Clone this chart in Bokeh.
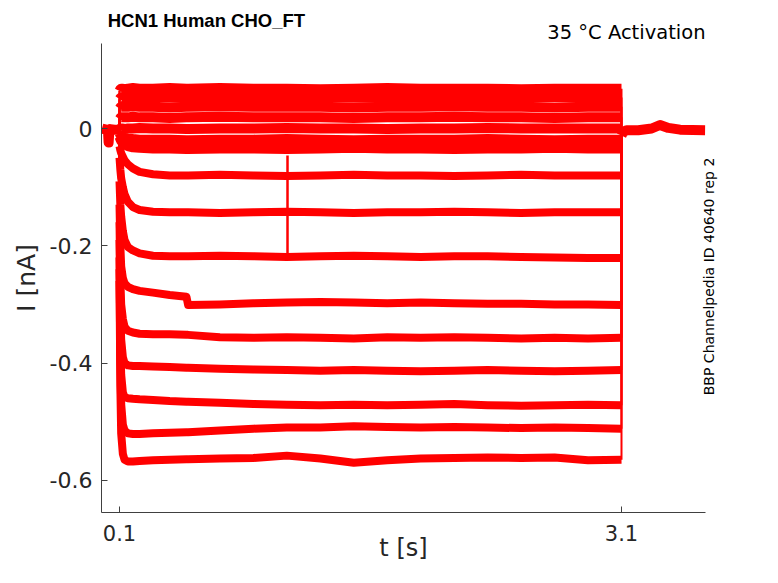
import math
from bokeh.plotting import figure
from bokeh.models import Range1d, FixedTicker, CustomJSTickFormatter, LinearAxis
from bokeh.embed import file_html
from bokeh.resources import INLINE

# ---- data, current in nA, time in s ----
t_grid = [0.1, 0.105, 0.11, 0.12, 0.13, 0.15, 0.18, 0.22, 0.3, 0.4, 0.5, 0.51,
          0.7, 0.9, 1.1, 1.3, 1.5, 1.7, 1.9, 2.1, 2.3, 2.5, 2.7, 2.9, 3.1]

i01 = [0.064, 0.067, 0.068, 0.068, 0.067, 0.068, 0.069, 0.068, 0.068, 0.069, 0.068, 0.068, 0.069, 0.068, 0.068, 0.067, 0.068, 0.069, 0.068, 0.068, 0.068, 0.067, 0.068, 0.068, 0.068]
i02 = [0.050, 0.052, 0.053, 0.053, 0.053, 0.052, 0.053, 0.053, 0.054, 0.053, 0.053, 0.053, 0.052, 0.053, 0.053, 0.054, 0.053, 0.053, 0.052, 0.053, 0.053, 0.053, 0.054, 0.053, 0.053]
i03 = [0.034, 0.036, 0.037, 0.037, 0.037, 0.037, 0.038, 0.037, 0.037, 0.036, 0.037, 0.037, 0.038, 0.037, 0.037, 0.037, 0.036, 0.037, 0.037, 0.038, 0.037, 0.037, 0.036, 0.037, 0.037]
i04 = [0.016, 0.018, 0.019, 0.019, 0.019, 0.019, 0.020, 0.019, 0.019, 0.018, 0.019, 0.019, 0.020, 0.019, 0.019, 0.019, 0.018, 0.019, 0.019, 0.020, 0.019, 0.019, 0.018, 0.019, 0.019]
i05 = [-0.002, 0.0, 0.0, 0.0, -0.001, 0.0, 0.0, 0.001, 0.0, 0.0, -0.001, -0.001, 0.0, 0.0, 0.001, 0.0, 0.0, -0.001, 0.0, 0.0, 0.001, 0.0, 0.0, 0.0, 0.0]
i06 = [-0.008, -0.011, -0.013, -0.015, -0.016, -0.017, -0.018, -0.019, -0.019, -0.019, -0.020, -0.020, -0.019, -0.019, -0.018, -0.019, -0.020, -0.019, -0.019, -0.019, -0.018, -0.019, -0.020, -0.019, -0.019]
i07 = [-0.014, -0.018, -0.021, -0.025, -0.027, -0.030, -0.032, -0.033, -0.034, -0.034, -0.035, -0.035, -0.034, -0.034, -0.035, -0.034, -0.033, -0.034, -0.034, -0.035, -0.034, -0.034, -0.033, -0.034, -0.034]
i08 = [-0.030, -0.037, -0.042, -0.048, -0.054, -0.061, -0.068, -0.074, -0.078, -0.080, -0.080, -0.080, -0.079, -0.080, -0.081, -0.080, -0.079, -0.080, -0.080, -0.081, -0.080, -0.079, -0.080, -0.080, -0.080]
i09 = [-0.050, -0.070, -0.085, -0.100, -0.112, -0.125, -0.134, -0.139, -0.142, -0.143, -0.143, -0.143, -0.144, -0.143, -0.142, -0.143, -0.144, -0.143, -0.143, -0.142, -0.143, -0.144, -0.143, -0.143, -0.143]
i10 = [-0.090, -0.130, -0.150, -0.175, -0.190, -0.202, -0.208, -0.213, -0.217, -0.218, -0.218, -0.218, -0.217, -0.218, -0.219, -0.218, -0.217, -0.218, -0.219, -0.218, -0.218, -0.219, -0.220, -0.221, -0.221]
i11 = [-0.130, -0.200, -0.235, -0.255, -0.264, -0.270, -0.274, -0.277, -0.280, -0.284, -0.287, -0.301, -0.300, -0.298, -0.297, -0.296, -0.297, -0.298, -0.297, -0.298, -0.299, -0.299, -0.300, -0.300, -0.301]
i12 = [-0.160, -0.260, -0.300, -0.325, -0.338, -0.345, -0.348, -0.350, -0.351, -0.351, -0.352, -0.352, -0.356, -0.357, -0.356, -0.357, -0.358, -0.356, -0.357, -0.356, -0.357, -0.358, -0.357, -0.358, -0.357]
i13 = [-0.190, -0.310, -0.360, -0.390, -0.400, -0.404, -0.405, -0.405, -0.406, -0.407, -0.408, -0.408, -0.410, -0.411, -0.412, -0.413, -0.412, -0.413, -0.414, -0.413, -0.412, -0.413, -0.414, -0.413, -0.412]
i14 = [-0.220, -0.360, -0.420, -0.450, -0.458, -0.460, -0.461, -0.462, -0.463, -0.465, -0.466, -0.466, -0.468, -0.470, -0.471, -0.472, -0.471, -0.472, -0.471, -0.470, -0.472, -0.473, -0.472, -0.471, -0.472]
i15 = [-0.240, -0.400, -0.470, -0.505, -0.515, -0.520, -0.521, -0.521, -0.520, -0.519, -0.518, -0.518, -0.515, -0.512, -0.510, -0.510, -0.508, -0.509, -0.510, -0.509, -0.510, -0.511, -0.510, -0.511, -0.512]
i16 = [-0.260, -0.440, -0.520, -0.555, -0.565, -0.568, -0.568, -0.567, -0.566, -0.565, -0.564, -0.564, -0.563, -0.562, -0.558, -0.563, -0.570, -0.566, -0.563, -0.562, -0.561, -0.562, -0.561, -0.566, -0.565]

pre_t = [-0.005, 0.02, 0.031, 0.035, 0.039, 0.045, 0.07, 0.1]
pre_i = [0.0, -0.002, -0.004, -0.024, -0.006, -0.001, -0.002, -0.002]

post_t = [3.1, 3.11, 3.13, 3.2, 3.28, 3.33, 3.38, 3.45, 3.6]
post_i = [-0.012, -0.006, -0.003, -0.003, 0.0, 0.006, 0.001, -0.002, -0.003]

spike_t = [1.104, 1.104]
spike_i = [-0.215, -0.046]

x_ticks = [0.1, 3.1]
y_ticks = [0, -0.2, -0.4, -0.6]

title_text = "HCN1  Human  CHO_FT"
cond_text = "35 °C  Activation"
id_text = "BBP Channelpedia ID 40640 rep 2"
title_at = 0.65     # time under the centre of the title
cond_at = 3.148     # time under the centre of the condition note
id_start = -0.455   # the vertical note begins (its lower end) at this current

traces = [i01, i02, i03, i04, i05, i06, i07, i08,
          i09, i10, i11, i12, i13, i14, i15, i16]

RED = "#ff0000"
AX = "#404040"
TXT = "#262626"

p = figure(width=762, height=567,
           x_range=Range1d(-0.0076, 3.602), y_range=Range1d(-0.655, 0.145),
           output_backend="svg", toolbar_location=None,
           min_border_left=101, min_border_right=57,
           min_border_top=43, min_border_bottom=55)
p.grid.visible = False
p.outline_line_color = None
p.background_fill_color = "white"
p.border_fill_color = "white"

# baseline before and after the step
p.line(pre_t, pre_i, line_color=RED, line_width=10, line_join="round")
p.line(post_t, post_i, line_color=RED, line_width=10, line_join="round")

# step traces
for k, tr in enumerate(traces):
    p.line(t_grid, tr, line_color=RED, line_width=(10 if k < 7 else 8),
           line_cap="butt", line_join="round")

# on/off jumps
n = len(traces)
p.segment(x0=[t_grid[0]] * n, y0=[pre_i[-1]] * n,
          x1=[t_grid[0]] * n, y1=[tr[0] for tr in traces],
          line_color=RED, line_width=2.5)
p.segment(x0=[t_grid[-1]] * n, y0=[tr[-1] for tr in traces],
          x1=[post_t[0]] * n, y1=[post_i[0]] * n,
          line_color=RED, line_width=2)
p.line(spike_t, spike_i, line_color=RED, line_width=2.5)

# axes
for ax in (p.xaxis[0], p.yaxis[0]):
    ax.axis_line_color = AX
    ax.major_tick_line_color = AX
    ax.major_tick_in = 6
    ax.major_tick_out = 0
    ax.minor_tick_line_color = None
    ax.major_label_text_font = "DejaVu Sans"
    ax.major_label_text_color = TXT
    ax.axis_label_text_font = "DejaVu Sans"
    ax.axis_label_text_font_style = "normal"
    ax.axis_label_text_color = TXT

p.xaxis.major_label_text_font_size = "21px"
p.yaxis.major_label_text_font_size = "22px"
p.xaxis.axis_label_text_font_size = "24px"
p.yaxis.axis_label_text_font_size = "25px"

p.xaxis.ticker = FixedTicker(ticks=x_ticks)
p.yaxis.ticker = FixedTicker(ticks=y_ticks)
fmt = "return Math.abs(tick) < 1e-9 ? '0' : tick.toFixed(1);"
p.xaxis.formatter = CustomJSTickFormatter(code=fmt)
p.yaxis.formatter = CustomJSTickFormatter(code=fmt)
p.xaxis.axis_label = "t [s]"
p.yaxis.axis_label = "I [nA]"
p.xaxis.major_label_standoff = 12
p.yaxis.major_label_standoff = 9
p.xaxis.axis_label_standoff = -10
p.yaxis.axis_label_standoff = 6


def note_axis(pos, text, size, style, standoff, orientation="horizontal"):
    """A bare axis whose single tick label carries a piece of text."""
    return LinearAxis(ticker=FixedTicker(ticks=[pos]),
                      formatter=CustomJSTickFormatter(code="return %r;" % text),
                      axis_line_color=None, major_tick_line_color=None,
                      minor_tick_line_color=None, major_tick_in=0,
                      major_tick_out=0, major_label_standoff=standoff,
                      major_label_orientation=orientation,
                      major_label_text_font="DejaVu Sans" if style == "normal" else "Liberation Sans",
                      major_label_text_font_size=size,
                      major_label_text_font_style=style,
                      major_label_text_color="black")


# right-hand vertical note
p.add_layout(note_axis(id_start, id_text, "14px", "normal", 3, math.pi / 2), "right")
# condition note (nearest the frame) and the title above it
p.add_layout(note_axis(cond_at, cond_text, "19.5px", "normal", 0), "above")
p.add_layout(note_axis(title_at, title_text, "18.5px", "bold", -13), "above")

open("out.html", "w").write(file_html(p, INLINE))
